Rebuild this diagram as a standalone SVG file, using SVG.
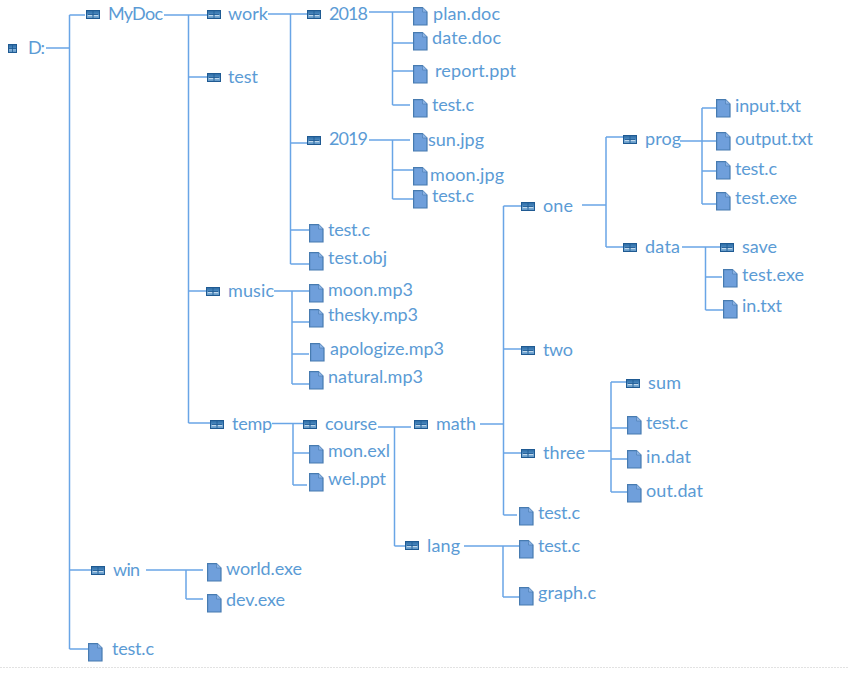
<svg xmlns="http://www.w3.org/2000/svg" width="849" height="675" viewBox="0 0 849 675">
<style>
text{font-family:Lato,"Liberation Sans",sans-serif;font-size:18px;fill:#5b9bd5}
.c line{stroke:#69a5e6;stroke-width:1.5;fill:none}
</style>
<defs>
<linearGradient id="fg" x1="0" y1="0" x2="0" y2="1"><stop offset="0" stop-color="#2b6aa3"/><stop offset="0.5" stop-color="#4f8cc2"/><stop offset="0.55" stop-color="#8db8dc"/><stop offset="1" stop-color="#5b93c4"/></linearGradient>
<g id="dir"><rect x="0.5" y="0.5" width="13" height="8" fill="url(#fg)" stroke="#1f5a92" stroke-width="1"/><path d="M2 4.5H12M7 1V8" stroke="#1f5a92" stroke-width="0.8" fill="none"/><path d="M2 5.5H6M8 5.5H12" stroke="#dbe9f5" stroke-width="0.7" fill="none"/></g>
<g id="doc"><path d="M0.6 0.6H9.5L14 5V18H0.6Z" fill="#6f9fdb" stroke="#477bb0" stroke-width="1.2"/><path d="M9.5 0.6V5H14" fill="#8db4e5" stroke="#477bb0" stroke-width="0.6"/></g>
</defs>
<rect width="849" height="675" fill="#fff"/>
<line x1="0" y1="667.5" x2="849" y2="667.5" stroke="#e2e2e2" stroke-dasharray="2 1"/>
<g id="connectors" class="c">
<line x1="46" y1="48" x2="69.5" y2="48"/><line x1="69.5" y1="15" x2="69.5" y2="649"/><line x1="69.5" y1="15" x2="85" y2="15"/><line x1="69.5" y1="570" x2="91" y2="570"/><line x1="69.5" y1="649" x2="88" y2="649"/>
<line x1="164" y1="15" x2="207" y2="15"/><line x1="188.5" y1="15" x2="188.5" y2="423"/><line x1="188.5" y1="77" x2="207" y2="77"/><line x1="188.5" y1="291" x2="206" y2="291"/><line x1="188.5" y1="423" x2="210" y2="423"/>
<line x1="268" y1="14" x2="307" y2="14"/><line x1="290.5" y1="14" x2="290.5" y2="264"/><line x1="290.5" y1="143" x2="307" y2="143"/><line x1="290.5" y1="230" x2="309" y2="230"/><line x1="290.5" y1="264" x2="309" y2="264"/>
<line x1="369" y1="12" x2="413" y2="12"/><line x1="392.5" y1="12" x2="392.5" y2="105"/><line x1="392.5" y1="43" x2="413" y2="43"/><line x1="392.5" y1="71" x2="413" y2="71"/><line x1="392.5" y1="105" x2="410" y2="105"/>
<line x1="369" y1="140" x2="410" y2="140"/><line x1="392.5" y1="140" x2="392.5" y2="199"/><line x1="392.5" y1="170" x2="413" y2="170"/><line x1="392.5" y1="199" x2="413" y2="199"/>
<line x1="274" y1="291" x2="309" y2="291"/><line x1="292" y1="291" x2="292" y2="384"/><line x1="292" y1="322" x2="309" y2="322"/><line x1="292" y1="354" x2="309" y2="354"/><line x1="292" y1="384" x2="309" y2="384"/>
<line x1="272" y1="423.5" x2="303" y2="423.5"/><line x1="293" y1="423.5" x2="293" y2="485"/><line x1="293" y1="453" x2="309" y2="453"/><line x1="293" y1="485" x2="307" y2="485"/>
<line x1="378" y1="427" x2="411" y2="427"/><line x1="394.5" y1="427" x2="394.5" y2="546"/><line x1="394.5" y1="546" x2="405" y2="546"/>
<line x1="480" y1="424" x2="503.5" y2="424"/><line x1="503.5" y1="206" x2="503.5" y2="515"/><line x1="503.5" y1="206" x2="521" y2="206"/><line x1="503.5" y1="349" x2="521" y2="349"/><line x1="503.5" y1="453" x2="521" y2="453"/><line x1="503.5" y1="515" x2="517" y2="515"/>
<line x1="464" y1="546" x2="519" y2="546"/><line x1="503" y1="546" x2="503" y2="597"/><line x1="503" y1="597" x2="519" y2="597"/>
<line x1="582" y1="205" x2="606" y2="205"/><line x1="606" y1="137" x2="606" y2="247"/><line x1="606" y1="137" x2="623" y2="137"/><line x1="606" y1="247" x2="623" y2="247"/>
<line x1="680" y1="141" x2="716" y2="141"/><line x1="702" y1="108" x2="702" y2="204"/><line x1="702" y1="108" x2="716" y2="108"/><line x1="702" y1="171" x2="716" y2="171"/><line x1="702" y1="204" x2="716" y2="204"/>
<line x1="682" y1="247" x2="720" y2="247"/><line x1="705.5" y1="247" x2="705.5" y2="310"/><line x1="705.5" y1="277" x2="722" y2="277"/><line x1="705.5" y1="310" x2="723" y2="310"/>
<line x1="588" y1="451" x2="611" y2="451"/><line x1="611" y1="382" x2="611" y2="492"/><line x1="611" y1="382" x2="626" y2="382"/><line x1="611" y1="428" x2="627" y2="428"/><line x1="611" y1="459" x2="627" y2="459"/><line x1="611" y1="492" x2="627" y2="492"/>
<line x1="146" y1="570" x2="203" y2="570"/><line x1="186" y1="570" x2="186" y2="599"/><line x1="186" y1="599" x2="203" y2="599"/>
</g>
<g id="n-d"><rect x="8.5" y="44.5" width="8" height="8" fill="url(#fg)" stroke="#1f5a92"/><path d="M9 48.5H16M12.5 45V52" stroke="#1f5a92" stroke-width="0.8" fill="none"/><text x="28" y="54" textLength="17">D:</text></g>
<g id="n-mydoc"><use href="#dir" x="86" y="10"/><text x="108" y="20" textLength="55">MyDoc</text></g>
<g id="n-work"><use href="#dir" x="207" y="10"/><text x="228" y="20" textLength="40">work</text></g>
<g id="n-test"><use href="#dir" x="207" y="73"/><text x="228" y="83" textLength="30">test</text></g>
<g id="n-2018"><use href="#dir" x="307" y="10"/><text x="329" y="20" textLength="39">2018</text></g>
<g id="n-2019"><use href="#dir" x="307" y="136"/><text x="329" y="145" textLength="39">2019</text></g>
<g id="n-plan"><use href="#doc" x="413" y="7"/><text x="433" y="20" textLength="67">plan.doc</text></g>
<g id="n-date"><use href="#doc" x="413" y="32"/><text x="432" y="44" textLength="69">date.doc</text></g>
<g id="n-report"><use href="#doc" x="413" y="65"/><text x="435" y="77" textLength="81">report.ppt</text></g>
<g id="n-testc1"><use href="#doc" x="413" y="99"/><text x="432" y="111" textLength="42">test.c</text></g>
<g id="n-sun"><use href="#doc" x="413" y="133"/><text x="428" y="146" textLength="56">sun.jpg</text></g>
<g id="n-moonjpg"><use href="#doc" x="413" y="167"/><text x="430" y="181" textLength="74">moon.jpg</text></g>
<g id="n-testc2"><use href="#doc" x="413" y="190"/><text x="432" y="202" textLength="42">test.c</text></g>
<g id="n-testc3"><use href="#doc" x="309" y="224"/><text x="328" y="236" textLength="42">test.c</text></g>
<g id="n-testobj"><use href="#doc" x="309" y="252"/><text x="328" y="264" textLength="59">test.obj</text></g>
<g id="n-music"><use href="#dir" x="206" y="287"/><text x="228" y="297" textLength="46">music</text></g>
<g id="n-moonmp3"><use href="#doc" x="309" y="284"/><text x="328" y="296" textLength="85">moon.mp3</text></g>
<g id="n-thesky"><use href="#doc" x="309" y="309"/><text x="328" y="321" textLength="90">thesky.mp3</text></g>
<g id="n-apologize"><use href="#doc" x="310" y="343"/><text x="330" y="355" textLength="114">apologize.mp3</text></g>
<g id="n-natural"><use href="#doc" x="309" y="371"/><text x="328" y="383" textLength="95">natural.mp3</text></g>
<g id="n-temp"><use href="#dir" x="210" y="420"/><text x="232" y="430" textLength="40">temp</text></g>
<g id="n-course"><use href="#dir" x="303" y="420"/><text x="325" y="430" textLength="52">course</text></g>
<g id="n-mon"><use href="#doc" x="309" y="445"/><text x="328" y="457" textLength="62">mon.exl</text></g>
<g id="n-wel"><use href="#doc" x="309" y="473"/><text x="328" y="485" textLength="58">wel.ppt</text></g>
<g id="n-math"><use href="#dir" x="414" y="420"/><text x="436" y="430" textLength="40">math</text></g>
<g id="n-lang"><use href="#dir" x="405" y="541"/><text x="427" y="552" textLength="33">lang</text></g>
<g id="n-one"><use href="#dir" x="521" y="202"/><text x="543" y="212" textLength="30">one</text></g>
<g id="n-two"><use href="#dir" x="521" y="346"/><text x="543" y="356" textLength="30">two</text></g>
<g id="n-three"><use href="#dir" x="521" y="449"/><text x="543" y="459" textLength="42">three</text></g>
<g id="n-testc4"><use href="#doc" x="519" y="507"/><text x="538" y="519" textLength="42">test.c</text></g>
<g id="n-testc5"><use href="#doc" x="519" y="540"/><text x="538" y="552" textLength="42">test.c</text></g>
<g id="n-graph"><use href="#doc" x="519" y="587"/><text x="538" y="599" textLength="58">graph.c</text></g>
<g id="n-prog"><use href="#dir" x="623" y="135"/><text x="645" y="145" textLength="36">prog</text></g>
<g id="n-data"><use href="#dir" x="623" y="243"/><text x="645" y="253" textLength="35">data</text></g>
<g id="n-input"><use href="#doc" x="716" y="99"/><text x="735" y="112" textLength="66">input.txt</text></g>
<g id="n-output"><use href="#doc" x="716" y="132"/><text x="735" y="145" textLength="78">output.txt</text></g>
<g id="n-testc6"><use href="#doc" x="716" y="161"/><text x="735" y="175" textLength="42">test.c</text></g>
<g id="n-testexe1"><use href="#doc" x="716" y="192"/><text x="735" y="204" textLength="62">test.exe</text></g>
<g id="n-save"><use href="#dir" x="720" y="243"/><text x="742" y="253" textLength="35">save</text></g>
<g id="n-testexe2"><use href="#doc" x="723" y="269"/><text x="742" y="281" textLength="62">test.exe</text></g>
<g id="n-intxt"><use href="#doc" x="723" y="300"/><text x="742" y="312" textLength="40">in.txt</text></g>
<g id="n-sum"><use href="#dir" x="626" y="379"/><text x="648" y="389" textLength="33">sum</text></g>
<g id="n-testc7"><use href="#doc" x="627" y="416"/><text x="646" y="429" textLength="42">test.c</text></g>
<g id="n-indat"><use href="#doc" x="627" y="450"/><text x="646" y="463" textLength="45">in.dat</text></g>
<g id="n-outdat"><use href="#doc" x="627" y="484"/><text x="646" y="497" textLength="57">out.dat</text></g>
<g id="n-win"><use href="#dir" x="91" y="566"/><text x="113" y="576" textLength="27">win</text></g>
<g id="n-world"><use href="#doc" x="207" y="563"/><text x="226" y="575" textLength="76">world.exe</text></g>
<g id="n-dev"><use href="#doc" x="207" y="594"/><text x="226" y="606" textLength="59">dev.exe</text></g>
<g id="n-testc8"><use href="#doc" x="88" y="643"/><text x="112" y="655" textLength="42">test.c</text></g>
</svg>
